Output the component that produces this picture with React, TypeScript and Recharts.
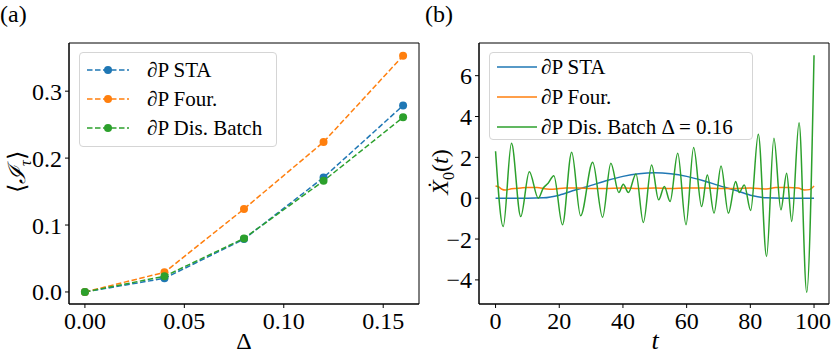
import React from 'react';
import { LineChart, Line, XAxis, YAxis, ReferenceArea } from 'recharts';

// panel (a): mean irreversible work vs perturbation strength
const deltas = [0, 0.04, 0.08, 0.12, 0.16];
const staI = [0, 0.0204, 0.079, 0.171, 0.2786];
const fourI = [0, 0.0293, 0.124, 0.224, 0.353];
const batchI = [0, 0.0234, 0.08, 0.166, 0.261];
const deltaTicks = [0, 0.05, 0.1, 0.15];
const iTicks = [0, 0.1, 0.2, 0.3];
const deltaDomain = [-0.008, 0.168];
const iDomain = [-0.018, 0.372];

// panel (b): driving protocols over time
const staT = [0, 5, 10, 15, 20, 25, 30, 35, 40, 45, 50, 55, 60, 65, 70, 75, 80, 85, 90, 95, 100];
const staV = [0, 0, 0, 0.02, 0.15, 0.4, 0.63, 0.87, 1.07, 1.2, 1.25, 1.2, 1.07, 0.87, 0.63, 0.4, 0.15, 0.02, 0, 0, 0];

const fourT = [0, 1, 2, 3, 5, 8, 10, 13, 16, 18, 22, 26, 30, 35, 40, 45, 50, 55, 60, 65, 70, 75, 80, 85, 88, 92, 95, 97, 98.5, 100];
const fourV = [0.6, 0.55, 0.44, 0.4, 0.46, 0.5, 0.52, 0.52, 0.45, 0.44, 0.5, 0.5, 0.47, 0.48, 0.5, 0.48, 0.5, 0.48, 0.5, 0.5, 0.48, 0.47, 0.5, 0.45, 0.52, 0.53, 0.5, 0.4, 0.42, 0.6];

const batchT = [0, 2.4, 5, 7.9, 10.6, 13.4, 15, 16.5, 18.3, 21, 23.9, 26.7, 30.5, 33.6, 36.2, 38.7, 40.1, 41.7, 44.1, 46.4, 49, 51.2, 53, 54.8, 57.2, 59.8, 62.2, 64.7, 66.5, 68.6, 70.8, 73.1, 75.4, 76.5, 78.1, 80.1, 82.5, 85.1, 87.4, 89.6, 91.4, 93, 95.3, 97.7, 100];
const batchV = [2.3, -1.39, 2.69, -0.9, 1.3, 0.0, 0.5, 0.73, 1.1, -1.3, 2.25, -0.86, 1.76, -0.93, 1.71, 0.28, 0.68, 0.28, 1.19, -1.19, 1.63, -0.08, 0.57, -0.16, 2.2, -1.3, 2.48, -0.41, 1.14, -0.73, 1.58, -0.73, 0.82, 0.28, 0.65, -0.6, 3.13, -2.85, 2.93, -0.57, 1.22, -1.14, 3.7, -4.61, 7.0];
const tTicks = [0, 20, 40, 60, 80, 100];
const xTicks = [-4, -2, 0, 2, 4, 6];
const tDomain = [-5.2, 104.7];
const xDomain = [-5.18, 7.6];

const C_BLUE = '#1f77b4';
const C_ORANGE = '#ff7f0e';
const C_GREEN = '#2ca02c';
const FONT = '"Liberation Serif", "Times New Roman", serif';

const leftData = deltas.map((d, i) => ({ d, sta: staI[i], four: fourI[i], batch: batchI[i] }));
const toPts = (ts: number[], vs: number[]) => ts.map((t, i) => ({ t, v: vs[i] }));
const staPts = toPts(staT, staV);
const fourPts = toPts(fourT, fourV);
const batchPts = toPts(batchT, batchV);

const leftSeries = [
  { key: 'sta', name: '∂P STA', color: C_BLUE },
  { key: 'four', name: '∂P Four.', color: C_ORANGE },
  { key: 'batch', name: '∂P Dis. Batch', color: C_GREEN },
];
const rightSeries = [
  { name: '∂P STA', color: C_BLUE, data: staPts },
  { name: '∂P Four.', color: C_ORANGE, data: fourPts },
  { name: '∂P Dis. Batch Δ = 0.16', color: C_GREEN, data: batchPts },
];

const tickStyle = { fill: '#000', fontSize: 24, fontFamily: FONT };
const minus = (v: number) => (v < 0 ? '\u2212' + Math.abs(v) : String(v));

const legendBox: React.CSSProperties = {
  position: 'absolute',
  background: 'rgba(255,255,255,0.8)',
  border: '1px solid #d5d5d5',
  borderRadius: 4,
  fontFamily: FONT,
  fontSize: 21,
  color: '#000',
  boxSizing: 'border-box',
};

const App = () => {
  return (
    <div style={{ position: 'absolute', left: 0, top: 0, width: 831, height: 355, background: '#fff', fontFamily: FONT }}>
      {/* (a) */}
      <div style={{ position: 'absolute', left: 0, top: 0 }}>
        <LineChart width={420} height={355} data={leftData} margin={{ top: 43, right: 1, bottom: 0, left: 0 }}>
          <XAxis dataKey="d" type="number" domain={deltaDomain} ticks={deltaTicks} tickFormatter={(v: number) => v.toFixed(2)}
            height={51} tick={tickStyle} tickSize={4} tickMargin={4} stroke="#000" allowDataOverflow />
          <YAxis type="number" domain={iDomain} ticks={iTicks} tickFormatter={(v: number) => v.toFixed(1)}
            width={69} tick={tickStyle} tickSize={4} tickMargin={3} stroke="#000" allowDataOverflow />
          <ReferenceArea x1={deltaDomain[0]} x2={deltaDomain[1]} y1={iDomain[0]} y2={iDomain[1]}
            fill="none" stroke="#000" strokeWidth={1} ifOverflow="visible" />
          {leftSeries.map((s) => (
            <Line key={s.key} dataKey={s.key} name={s.name} stroke={s.color} strokeWidth={1.5} strokeDasharray="5.5 2.5"
              type="linear" dot={{ r: 4, fill: s.color, stroke: s.color, strokeWidth: 0 }} isAnimationActive={false} />
          ))}
        </LineChart>
        <div style={{ ...legendBox, left: 79, top: 52, width: 198, height: 95 }}>
          {leftSeries.map((s, i) => (
            <div key={s.key} style={{ position: 'absolute', left: 6, top: 5 + i * 29, height: 24, display: 'flex', alignItems: 'center' }}>
              <svg width={44} height={24}>
                <line x1={1} y1={12} x2={43} y2={12} stroke={s.color} strokeWidth={1.5} strokeDasharray="5.5 2.5" />
                <circle cx={22} cy={12} r={4} fill={s.color} />
              </svg>
              <span style={{ marginLeft: 17, whiteSpace: 'nowrap' }}>{s.name}</span>
            </div>
          ))}
        </div>
      </div>

      {/* (b) */}
      <div style={{ position: 'absolute', left: 410, top: 0 }}>
        <LineChart width={421} height={355} margin={{ top: 43, right: 2, bottom: 0, left: 0 }}>
          <XAxis dataKey="t" type="number" domain={tDomain} ticks={tTicks} height={51} tick={tickStyle}
            tickSize={4} tickMargin={4} stroke="#000" allowDataOverflow allowDuplicatedCategory={false} />
          <YAxis type="number" domain={xDomain} ticks={xTicks} tickFormatter={minus} width={69} tick={tickStyle}
            tickSize={4} tickMargin={3} stroke="#000" allowDataOverflow />
          <ReferenceArea x1={tDomain[0]} x2={tDomain[1]} y1={xDomain[0]} y2={xDomain[1]}
            fill="none" stroke="#000" strokeWidth={1} ifOverflow="visible" />
          {rightSeries.map((s) => (
            <Line key={s.name} data={s.data} dataKey="v" name={s.name} stroke={s.color} strokeWidth={1.5}
              type="monotone" dot={false} isAnimationActive={false} />
          ))}
        </LineChart>
        <div style={{ ...legendBox, left: 79, top: 52, width: 264, height: 88 }}>
          {rightSeries.map((s, i) => (
            <div key={s.name} style={{ position: 'absolute', left: 6, top: 2 + i * 30, height: 24, display: 'flex', alignItems: 'center' }}>
              <svg width={42} height={24}>
                <line x1={1} y1={12} x2={41} y2={12} stroke={s.color} strokeWidth={1.5} />
              </svg>
              <span style={{ marginLeft: 3, whiteSpace: 'nowrap' }}>{s.name}</span>
            </div>
          ))}
        </div>
      </div>

      {/* panel tags and axis titles */}
      <svg width={831} height={355} style={{ position: 'absolute', left: 0, top: 0, pointerEvents: 'none' }} fontFamily={FONT} fill="#000">
        <text x={0} y={22} fontSize={24}>(a)</text>
        <text x={425} y={22} fontSize={24}>(b)</text>
        <text x={244} y={349} fontSize={24} textAnchor="middle">Δ</text>
        <text x={655} y={349} fontSize={26} textAnchor="middle" fontStyle="italic">t</text>
        <text transform="translate(25,172) rotate(-90)" fontSize={24} textAnchor="middle">
          ⟨<tspan fontStyle="italic">ℐ</tspan><tspan fontSize={16} fontStyle="italic" dy={6}>τ</tspan><tspan dy={-6}>⟩</tspan>
        </text>
        <text transform="translate(448,172) rotate(-90)" fontSize={24} textAnchor="middle">
          <tspan fontStyle="italic">{'X\u0307'}</tspan><tspan fontSize={16} dy={6}>0</tspan><tspan dy={-6}>(</tspan><tspan fontStyle="italic">t</tspan>)
        </text>
      </svg>
    </div>
  );
};

export default App;
